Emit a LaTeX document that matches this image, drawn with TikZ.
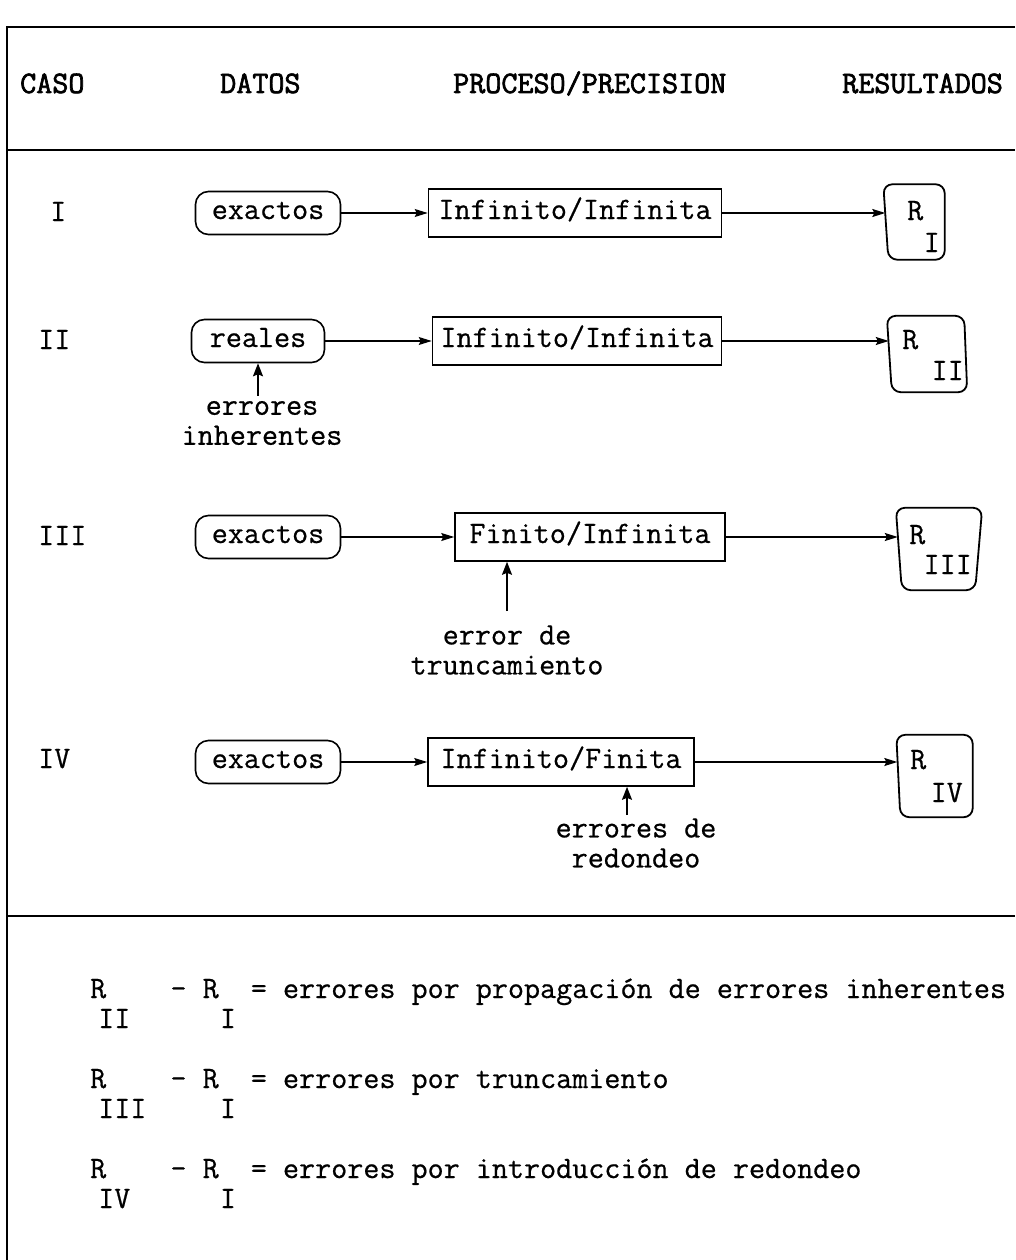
\documentclass[tikz,border=0pt]{standalone}
\usepackage{fontspec}
\setmainfont{Latin Modern Mono}[FakeBold=0.6]
\newfontfamily\headfont{Latin Modern Mono}[FakeBold=2.2]
\usetikzlibrary{arrows.meta}
\newcommand\diagsz{\fontsize{31.2}{34}\selectfont}
\begin{document}
\begin{tikzpicture}[x=1pt,y=-1pt,
  every node/.style={inner sep=0pt, font=\diagsz},
  frame/.style={line width=1.8pt},
  head/.style={font=\headfont\diagsz, anchor=base west},
  lbl/.style={anchor=base west},
  databox/.style={draw, line width=1.6pt, rounded corners=13pt, minimum height=43pt,
                  text height=14pt, text depth=2pt},
  procbox/.style={draw, line width=1.6pt, minimum height=48pt,
                  text height=14pt, text depth=2pt},
  rline/.style={line width=1.8pt, rounded corners=9pt},
  link/.style={line width=1.2pt, -{Stealth[length=13pt,width=8pt,inset=2pt]}},
  errlink/.style={line width=1.5pt, -{Stealth[length=13pt,width=10pt,inset=2pt]}},
  note/.style={align=center, font=\fontsize{31.2}{30}\selectfont}
]
\useasboundingbox (0,0) rectangle (1015,1260);

% outer frame and section rules
\draw[frame] (1015,27) -- (7,27) -- (7,1260);
\draw[frame] (7,150) -- (1015,150);
\draw[frame] (7,916) -- (1015,916);

% column headings
\node[head] (hcaso)  at (20,93)  {CASO};
\node[head] (hdatos) at (220,93) {DATOS};
\node[head] (hproc)  at (453,93) {PROCESO/PRECISION};
\node[head] (hres)   at (842,93) {RESULTADOS};

% ---- case I
\node[lbl] (c1) at (50,221) {I};
\node[databox, minimum width=145pt] (d1) at (268,213) {exactos};
\node[procbox, minimum width=293pt] (p1) at (575,213) {Infinito/Infinita};
\node[minimum width=59pt, minimum height=75pt] (r1) at (915,222) {};
\draw[rline] ([xshift=-2pt]r1.north west) -- (r1.north east) -- (r1.south east)
  -- ([xshift=3pt]r1.south west) -- cycle;
\node[anchor=base west] (r1a) at (907,220) {R};
\node[anchor=base east] (r1b) at (940,252) {I};
\draw[link] (d1) -- (p1);
\draw[link] (p1.east) -- (p1.east -| r1.west);

% ---- case II
\node[lbl] (c2) at (38,349) {II};
\node[databox, minimum width=133pt] (d2) at (258,341) {reales};
\node[procbox, minimum width=289pt] (p2) at (577,341) {Infinito/Infinita};
\node[minimum width=78pt, minimum height=76pt] (r2) at (928,354) {};
\draw[rline] ([xshift=-2pt]r2.north west) -- ([xshift=-3pt]r2.north east) -- (r2.south east)
  -- ([xshift=3pt]r2.south west) -- cycle;
\node[anchor=base west] (r2a) at (902,349) {R};
\node[anchor=base east] (r2b) at (964,380) {II};
\draw[link] (d2) -- (p2);
\draw[link] (p2.east) -- (p2.east -| r2.west);
\node[note] (e2) at (262,423) {errores\\inherentes};
\draw[errlink] ([yshift=5pt]e2.north -| d2.south) -- (d2.south);

% ---- case III
\node[lbl] (c3) at (38,545) {III};
\node[databox, minimum width=145pt] (d3) at (268,537) {exactos};
\node[procbox, minimum width=270pt] (p3) at (590,537) {Finito/Infinita};
\node[minimum width=82pt, minimum height=82pt] (r3) at (939,549) {};
\draw[rline] ([xshift=-2pt]r3.north west) -- ([xshift=2pt]r3.north east)
  -- ([xshift=-5pt]r3.south east) -- ([xshift=4pt]r3.south west) -- cycle;
\node[anchor=base west] (r3a) at (909,544) {R};
\node[anchor=base east] (r3b) at (972,574) {III};
\draw[link] (d3) -- (p3);
\draw[link] (p3.east) -- (p3.east -| r3.west);
\node[note] (e3) at (507,650) {error de\\truncamiento};
\draw[errlink] ([yshift=14pt]e3.north) -- (e3.north |- p3.south);

% ---- case IV
\node[lbl] (c4) at (38,768) {IV};
\node[databox, minimum width=145pt] (d4) at (268,762) {exactos};
\node[procbox, minimum width=266pt] (p4) at (561,762) {Infinito/Finita};
\node[minimum width=75pt, minimum height=82pt] (r4) at (935,776) {};
\draw[rline] ([xshift=-1pt]r4.north west) -- (r4.north east) -- (r4.south east)
  -- ([xshift=3pt]r4.south west) -- cycle;
\node[anchor=base west] (r4a) at (910,769) {R};
\node[anchor=base east] (r4b) at (963,802) {IV};
\draw[link] (d4) -- (p4);
\draw[link] (p4.east) -- (p4.east -| r4.west);
\node[note] (e4) at (636,843) {errores de\\redondeo};
\draw[errlink] ([yshift=3pt]e4.north -| 627,0) -- (627,0 |- p4.south);

% ---- differences between results
\node[anchor=base west] (f1) at (90,998)
  {R~~~~-~R~~=~errores por propagación de errores inherentes};
\node[anchor=base west] (f1a) at (98,1028) {II};
\node[anchor=base] (f1b) at (228,1028) {I};
\node[anchor=base west] (f2) at (90,1088)
  {R~~~~-~R~~=~errores por truncamiento};
\node[anchor=base west] (f2a) at (98,1118) {III};
\node[anchor=base] (f2b) at (228,1118) {I};
\node[anchor=base west] (f3) at (90,1178)
  {R~~~~-~R~~=~errores por introducción de redondeo};
\node[anchor=base west] (f3a) at (98,1208) {IV};
\node[anchor=base] (f3b) at (228,1208) {I};
\end{tikzpicture}
\end{document}
